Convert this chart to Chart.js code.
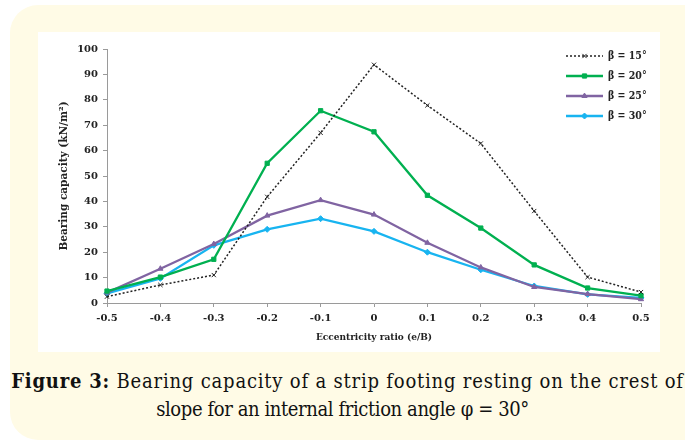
<!DOCTYPE html>
<html>
<head>
<meta charset="utf-8">
<script src="https://cdn.jsdelivr.net/npm/chart.js@4.4.1/dist/chart.umd.min.js"></script>
<style>
  html, body { margin: 0; padding: 0; background: #fff; width: 685px; height: 443px; overflow: hidden; }
  .cream { position: absolute; left: 10px; top: 5px; width: 720px; height: 435px; border-radius: 28px; background: #fffbe6; }
  .panel { position: absolute; left: 38px; top: 32px; width: 622px; height: 320px; background: #fff; }
  #chart { position: absolute; left: 38px; top: 32px; }
  .caption { position: absolute; left: 0; top: 367px; width: 695px; text-align: center;
             font-family: "DejaVu Serif Condensed", "DejaVu Serif", serif; font-size: 20px; line-height: 28px; color: #111; white-space: nowrap; }
  .caption div:first-child { letter-spacing: 0.8px; }
  .caption div:last-child { letter-spacing: -0.4px; margin-right: 10px; }
  .caption b { font-weight: bold; }
</style>
</head>
<body>
<div class="cream"></div>
<div class="panel"></div>
<canvas id="chart" width="622" height="320"></canvas>
<div class="caption"><div><b>Figure 3:</b> Bearing capacity of a strip footing resting on the crest of</div><div>slope for an internal friction angle φ = 30°</div></div>
<script>
const eccentricity = ["-0.5","-0.4","-0.3","-0.2","-0.1","0","0.1","0.2","0.3","0.4","0.5"];
const beta15 = [2.5, 7.1, 11.0, 41.8, 67.0, 93.8, 77.8, 62.8, 36.2, 10.2, 4.3];
const beta20 = [4.7, 10.2, 17.2, 55.0, 75.7, 67.4, 42.4, 29.5, 15.0, 5.9, 2.9];
const beta25 = [4.1, 13.5, 23.2, 34.4, 40.5, 34.8, 23.7, 14.0, 6.3, 3.5, 1.5];
const beta30 = [3.8, 9.7, 22.7, 29.0, 33.2, 28.2, 20.0, 13.1, 6.7, 3.4, 2.0];
const seriesNames = ["β = 15°", "β = 20°", "β = 25°", "β = 30°"];
const yTicks = [0, 10, 20, 30, 40, 50, 60, 70, 80, 90, 100];

const tickFont = { family: "DejaVu Serif", weight: "bold", size: 10 };
const axisGray = "#9a9a9a";

function line(label, data, color, style, width, dash, radius) {
  return {
    label, data,
    borderColor: color, backgroundColor: color,
    borderWidth: width, borderDash: dash,
    pointStyle: style, pointRadius: radius, pointHoverRadius: radius,
    pointBorderColor: color, pointBackgroundColor: color, pointBorderWidth: 1,
    tension: 0, fill: false
  };
}

// legend at the top right: line sample with the marker in the middle
const sideLegend = {
  id: "sideLegend",
  afterDraw(c) {
    const ctx = c.ctx;
    ctx.save();
    c.data.datasets.forEach((ds, i) => {
      const y = 24 + i * 20;
      ctx.strokeStyle = ds.borderColor;
      ctx.lineWidth = ds.borderWidth;
      ctx.setLineDash(ds.borderDash || []);
      ctx.beginPath();
      ctx.moveTo(528, y);
      ctx.lineTo(565, y);
      ctx.stroke();
      ctx.setLineDash([]);
      ctx.fillStyle = ds.borderColor;
      ctx.lineWidth = 1;
      Chart.helpers.drawPoint(ctx, { pointStyle: ds.pointStyle, radius: ds.pointRadius, borderWidth: 1, rotation: 0 }, 546.5, y);
      ctx.fillStyle = "#222";
      ctx.font = "bold 10.5px 'DejaVu Serif Condensed'";
      ctx.textBaseline = "middle";
      ctx.textAlign = "left";
      ctx.fillText(ds.label, 570, y);
    });
    ctx.restore();
  }
};

new Chart(document.getElementById("chart"), {
  type: "line",
  data: {
    labels: eccentricity,
    datasets: [
      line(seriesNames[0], beta15, "#222222", "crossRot", 1.5, [2, 2], 3),
      line(seriesNames[1], beta20, "#00b050", "rect", 2.3, [], 3),
      line(seriesNames[2], beta25, "#8064a2", "triangle", 2.3, [], 3),
      line(seriesNames[3], beta30, "#18b4f0", "rectRot", 2.3, [], 3)
    ]
  },
  options: {
    responsive: false,
    animation: false,
    devicePixelRatio: 1,
    layout: { padding: { top: 17, right: 19, left: 0, bottom: 0 } },
    plugins: { legend: { display: false }, tooltip: { enabled: false } },
    scales: {
      x: {
        type: "category",
        offset: false,
        grid: { display: true, drawOnChartArea: false, drawTicks: true, tickLength: 4, color: axisGray },
        border: { color: axisGray, width: 1 },
        ticks: { font: tickFont, color: "#222", padding: 5, maxRotation: 0, autoSkip: false },
        title: { display: true, text: "Eccentricity ratio (e/B)", color: "#222",
                 font: { family: "DejaVu Serif Condensed", weight: "bold", size: 10 }, padding: { top: 0, bottom: 9 } },
        afterFit(s) { s.height = 49; }
      },
      y: {
        min: 0, max: 100,
        afterBuildTicks(s) { s.ticks = yTicks.map(v => ({ value: v })); },
        grid: { display: true, drawOnChartArea: false, drawTicks: true, tickLength: 4, color: axisGray },
        border: { color: axisGray, width: 1 },
        ticks: { font: tickFont, color: "#222", padding: 5 },
        title: { display: true, text: "Bearing capacity (kN/m²)", color: "#222",
                 font: { family: "DejaVu Serif", weight: "bold", size: 10.5 }, padding: { top: 20, bottom: 0 } },
        afterFit(s) { s.width = 69; }
      }
    }
  },
  plugins: [sideLegend]
});
</script>
</body>
</html>
